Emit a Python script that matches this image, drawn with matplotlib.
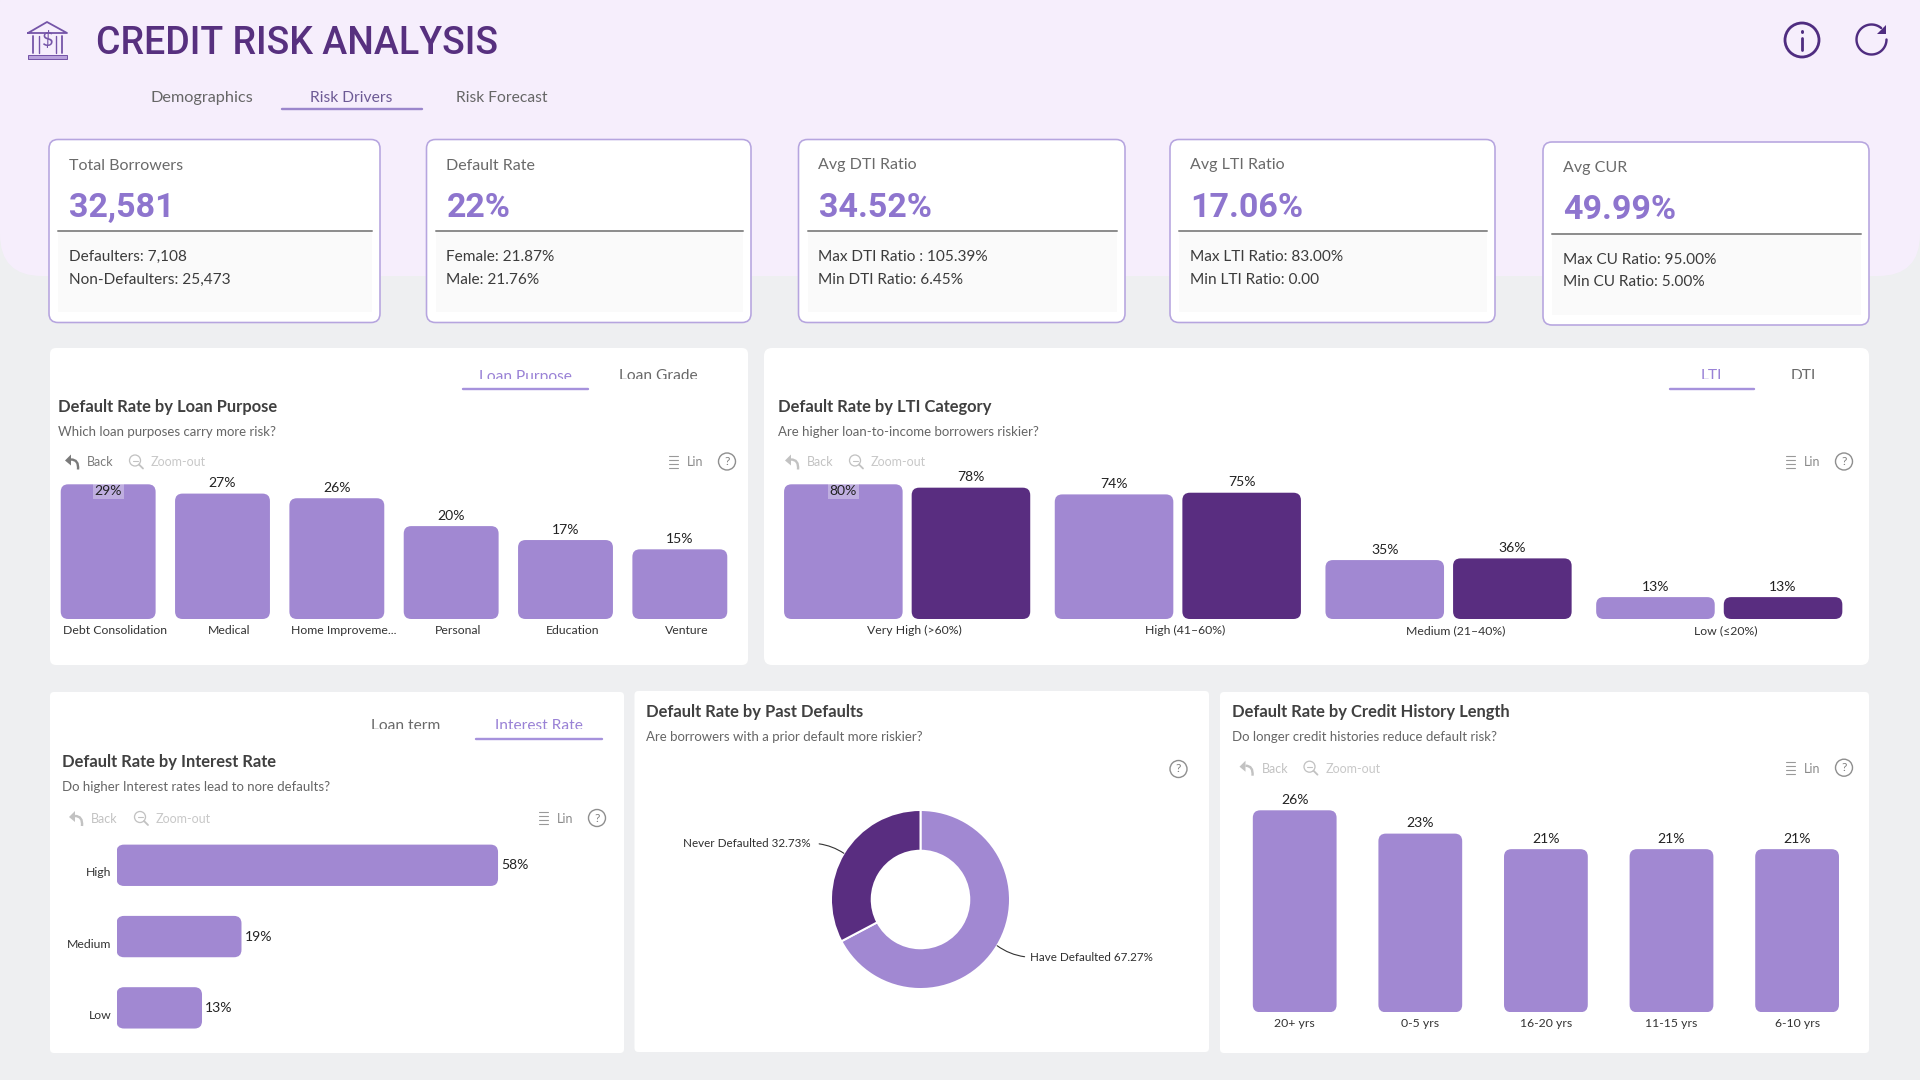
import numpy as np
import matplotlib
matplotlib.use("Agg")
import matplotlib.pyplot as plt
from matplotlib.patches import Circle, FancyBboxPatch, PathPatch, Polygon, Rectangle
from matplotlib.path import Path
from matplotlib.transforms import ScaledTranslation

plt.rcParams["font.family"] = ["Lato", "DejaVu Sans"]

# ---- values shown on the dashboard ----
page_tabs = ["Demographics", "Risk Drivers", "Risk Forecast"]
kpi_titles = ["Total Borrowers", "Default Rate", "Avg DTI Ratio", "Avg LTI Ratio", "Avg CUR"]
kpi_values = ["32,581", "22%", "34.52%", "17.06%", "49.99%"]
kpi_line1 = ["Defaulters: 7,108", "Female: 21.87%", "Max DTI Ratio : 105.39%",
             "Max LTI Ratio: 83.00%", "Max CU Ratio: 95.00%"]
kpi_line2 = ["Non-Defaulters: 25,473", "Male: 21.76%", "Min DTI Ratio: 6.45%",
             "Min LTI Ratio: 0.00", "Min CU Ratio: 5.00%"]

purpose_names = ["Debt Consolidation", "Medical", "Home Improveme...", "Personal", "Education", "Venture"]
purpose_rates = [29, 27, 26, 20, 17, 15]

lti_names = ["Very High (>60%)", "High (41–60%)", "Medium (21–40%)", "Low (≤20%)"]
lti_light = [80, 74, 35, 13]
lti_dark = [78, 75, 36, 13]

interest_names = ["High", "Medium", "Low"]
interest_rates = [58, 19, 13]

past_names = ["Have Defaulted", "Never Defaulted"]
past_shares = [67.27, 32.73]

history_names = ["20+ yrs", "0-5 yrs", "16-20 yrs", "11-15 yrs", "6-10 yrs"]
history_rates = [26, 23, 21, 21, 21]

# ---- palette ----
LIGHT = "#A188D2"
DARK = "#592D80"
PAGE = "#EEEFF1"
HEADER = "#F6EEFC"
BORDER = "#B6A5DF"
ACCENT = "#9A82D6"

W, H = 1920, 1080
fig = plt.figure(figsize=(W / 100, H / 100), dpi=100, facecolor=PAGE)

# Layout layer addressed in pixels from the top-left corner
bg = fig.add_axes([0, 0, 1, 1], zorder=0)
bg.set_xlim(0, W)
bg.set_ylim(H, 0)
bg.axis("off")


def pt(px):
    return px * 0.72


def label(x, y, s, size, color="#444444", weight="normal", ha="left", family=None):
    kw = {"family": family} if family else {}
    return bg.text(x, y + 1, s, fontsize=pt(size), color=color, fontweight=weight, ha=ha, va="center", **kw)


def box(x0, y0, x1, y1, radius=0, fc="white", ec="none", lw=0, z=1):
    style = f"round,pad=0,rounding_size={radius}" if radius else "square,pad=0"
    p = FancyBboxPatch((x0, y0), x1 - x0, y1 - y0, boxstyle=style, fc=fc, ec=ec, lw=pt(lw), zorder=z)
    bg.add_patch(p)
    return p


def stroke(xs, ys, color, lw=1.5, z=3):
    bg.plot(xs, ys, color=color, lw=pt(lw), solid_capstyle="round", zorder=z)


def back_icon(x, y, color):
    bg.add_patch(Polygon([(x - 7, y - 1), (x - 1, y - 7), (x - 1, y + 4)], fc=color, ec="none", zorder=3))
    curve = Path([(x - 1, y - 2), (x + 7, y - 2), (x + 6, y + 8)], [Path.MOVETO, Path.CURVE3, Path.CURVE3])
    bg.add_patch(PathPatch(curve, fc="none", ec=color, lw=pt(2.4), zorder=3))


def zoom_icon(x, y, color):
    bg.add_patch(Circle((x - 1, y - 1), 5.5, fc="none", ec=color, lw=pt(1.3), zorder=3))
    stroke([x - 3.5, x + 1.5], [y - 1, y - 1], color, 1.1)
    stroke([x + 3, x + 7], [y + 3, y + 7], color, 1.8)


def list_icon(x, y, color="#999999"):
    for dy in (-6, -2, 2, 6):
        stroke([x - 4, x + 5], [y + dy, y + dy], color, 1.1)


def help_icon(x, y):
    bg.add_patch(Circle((x, y), 8.5, fc="white", ec="#8f8f8f", lw=pt(1.4), zorder=3))
    bg.text(x, y, "?", fontsize=pt(12), color="#7f7f7f", ha="center", va="center", zorder=4)


def toolbar(back_x, zoom_x, list_x, help_x, y, back_color="#C2C2C2"):
    back_icon(back_x, y, back_color)
    label(back_x + 15, y, "Back", 12.5, back_color)
    zoom_icon(zoom_x, y, "#C2C2C2")
    label(zoom_x + 15, y, "Zoom-out", 12.5, "#C8C8C8")
    list_icon(list_x, y)
    label(list_x + 14, y, "Lin", 12.5, "#8A8A8A")
    help_icon(help_x, y)


def tab_pair(names, centres, active, ul, baseline, clip_y, rule_y):
    # Tab captions sit in a box slightly too short for them, so their lower edge is cut off
    for i, (name, cx) in enumerate(zip(names, centres)):
        t = bg.text(cx, baseline, name, fontsize=pt(15.5), color=ACCENT if i == active else "#6A6A6A",
                    ha="center", va="baseline")
        t.set_clip_path(Rectangle((cx - 80, baseline - 20), 160, clip_y - baseline + 20, transform=bg.transData))
        t.set_clip_on(True)
    stroke(ul, [rule_y, rule_y], "#A692DC", 2.4)


def heading(x, y, title, sub):
    label(x, y, title, 16.5, "#404040", "bold")
    label(x, y + 25, sub, 13.3, "#666666")


def chart_axes(x0, y0, x1, y1):
    ax = fig.add_axes([x0 / W, 1 - y1 / H, (x1 - x0) / W, (y1 - y0) / H], zorder=2)
    ax.patch.set_visible(False)
    for s in ax.spines.values():
        s.set_visible(False)
    ax.tick_params(length=0)
    return ax


def rounded_bars(ax, x0, y0, x1, y1, rects, color, radius=7.5):
    """Swap plain bar rectangles for round-cornered patches of the same size."""
    xl, yl = ax.get_xlim(), ax.get_ylim()
    px_x = (x1 - x0) / abs(xl[1] - xl[0])
    px_y = (y1 - y0) / abs(yl[1] - yl[0])
    for r in rects:
        ax.add_patch(FancyBboxPatch(
            (r.get_x(), r.get_y()), r.get_width(), r.get_height(),
            boxstyle=f"round,pad=0,rounding_size={radius / px_x}",
            mutation_aspect=px_x / px_y, fc=color, ec="none", zorder=2))


def value_label(ax, x, y, v, dy_px, boxed=False):
    kw = {}
    if boxed:
        kw["bbox"] = dict(boxstyle="square,pad=0.12", fc="white", ec="none", alpha=0.32)
    ax.annotate(f"{v}%", (x, y), xytext=(0, pt(dy_px)), textcoords="offset points",
                ha="center", va="center", fontsize=pt(14), color="#222222",
                annotation_clip=False, zorder=5, **kw)


def shift_xticklabels(ax, dx_px):
    off = ScaledTranslation(dx_px / 100, 0, fig.dpi_scale_trans)
    for t in ax.get_xticklabels():
        t.set_transform(t.get_transform() + off)


def column_chart(x0, y0, x1, y1, names, values, bar_frac, pad, dx_tick=0):
    ax = chart_axes(x0, y0, x1, y1)
    n = len(values)
    ax.set_xlim(-0.5, n - 0.5)
    ax.set_ylim(0, max(values))
    ax.set_yticks([])
    xs = np.arange(n)
    bars = ax.bar(xs, values, bar_frac, color="none")
    rounded_bars(ax, x0, y0, x1, y1, bars, LIGHT)
    ax.set_xticks(xs, names, fontsize=pt(12.3), color="#333333")
    ax.tick_params(axis="x", pad=pad)
    shift_xticklabels(ax, dx_tick)
    return ax, xs


# ---- page background ----
box(0, -40, W, 276, radius=42, fc=HEADER, z=0.5)

# ---- header icons and title ----
PURPLE_ICON = "#7555A8"
stroke([28, 47, 67, 28], [33, 22, 33, 33], PURPLE_ICON, 1.8)
for cx, w in ((33, 1.8), (39, 1.4), (56, 1.4), (62, 1.8)):
    stroke([cx, cx], [36, 53], PURPLE_ICON, w)
box(28, 54.5, 67, 58.5, fc="#B9A2DC", ec=PURPLE_ICON, lw=1, z=3)
label(47.5, 38.5, "$", 20, PURPLE_ICON, ha="center")
label(96, 43, "CREDIT RISK ANALYSIS", 37.5, "#57307F", "medium", family="Roboto")

ICON = "#4F2C80"
bg.add_patch(Circle((1802, 40), 17, fc="none", ec=ICON, lw=pt(2.8), zorder=3))
stroke([1802, 1802], [38, 50], ICON, 2.8)
stroke([1802, 1802], [31, 31.5], ICON, 3)
# Refresh glyph: three-quarter arc ending in an arrowhead at the upper right
spin = np.radians(np.arange(0, 315, 5))
stroke(1871.5 + 15 * np.cos(spin), 39.5 + 15 * np.sin(spin), ICON, 2.4)
bg.add_patch(Polygon([(1885.5, 25), (1885.5, 34), (1876.5, 34)], fc=ICON, ec="none", zorder=3))

# ---- page tabs ----
for name, x0, size, active in zip(page_tabs, [150, 310.5, 456.5], [16.2, 15.6, 15.6], [False, True, False]):
    label(x0, 97, name, size, "#6D5A95" if active else "#666666")
stroke([282, 422], [109, 109], "#9B86CC", 2.4)

# ---- KPI cards ----
card_x0 = [49, 426.5, 798.5, 1170, 1543]
card_x1 = [380, 751, 1125, 1495, 1869]
card_dy = [0, 0, 0, 0, 2.5]
for i in range(5):
    x0, x1, d = card_x0[i], card_x1[i], card_dy[i]
    box(x0, 139.5 + d, x1, 322.5 + d, radius=9, fc="white", ec=BORDER, lw=1.6, z=1)
    box(x0 + 9, 231 + d, x1 - 8, 312 + d, fc="#FAFAFA", z=1.1)
    stroke([x0 + 9, x1 - 8], [231 + d, 231 + d], "#8E8E8E", 2)
    label(x0 + 20, 164.5 + d, kpi_titles[i], 16, "#6A6A6A")
    label(x0 + 20, 206.7 + d, kpi_values[i], 34, "#8E75CE", "bold", family="Roboto")
    label(x0 + 20, 256.2 + d, kpi_line1[i], 15.4, "#3C3C3C")
    label(x0 + 20, 278.7 + d, kpi_line2[i], 15.4, "#3C3C3C")

# ---- white panels ----
box(50, 348, 748, 665, radius=6, z=0.8)
box(764, 348, 1869, 665, radius=8, z=0.8)
box(50, 692, 624, 1053, radius=4, z=0.8)
box(634.5, 691, 1209, 1052, radius=4, z=0.8)
box(1220, 692, 1869, 1053, radius=4, z=0.8)

# ---- default rate by loan purpose ----
tab_pair(["Loan Purpose", "Loan Grade"], [525, 658], 0, [463, 588], 380.5, 378.8, 389)
heading(58, 406, "Default Rate by Loan Purpose", "Which loan purposes carry more risk?")
toolbar(72, 136, 673, 727, 461.5, back_color="#7A7A7A")
ax1, xs1 = column_chart(51, 484.3, 737, 619, purpose_names, purpose_rates, 0.83, 4.5, 7)
for x, v in zip(xs1, purpose_rates):
    if v == max(purpose_rates):
        value_label(ax1, x, v, v, -7, boxed=True)
    else:
        value_label(ax1, x, v, v, 10.5)

# ---- default rate by LTI category ----
tab_pair(["LTI", "DTI"], [1711, 1803.6], 0, [1670, 1753.6], 380.5, 378.8, 389)
heading(778, 406, "Default Rate by LTI Category", "Are higher loan-to-income borrowers riskier?")
toolbar(792, 856, 1790, 1844, 461.5)
ax2 = chart_axes(771.8, 484.3, 1854.6, 619)
ax2.set_xlim(-0.5, 3.5)
ax2.set_ylim(0, 80)
ax2.set_yticks([])
xs2 = np.arange(len(lti_names))
bars_a = ax2.bar(xs2 - 0.2357, lti_light, 0.438, color="none")
bars_b = ax2.bar(xs2 + 0.2357, lti_dark, 0.438, color="none")
rounded_bars(ax2, 771.8, 484.3, 1854.6, 619, bars_a, LIGHT)
rounded_bars(ax2, 771.8, 484.3, 1854.6, 619, bars_b, DARK)
ax2.set_xticks(xs2, lti_names, fontsize=pt(12.3), color="#333333")
ax2.tick_params(axis="x", pad=4.5)
shift_xticklabels(ax2, 7)
for x, v in zip(xs2 - 0.2357, lti_light):
    if v == 80:
        value_label(ax2, x, v, v, -7, boxed=True)
    else:
        value_label(ax2, x, v, v, 10.5)
for x, v in zip(xs2 + 0.2357, lti_dark):
    value_label(ax2, x, v, v, 10.5)

# ---- default rate by interest rate ----
tab_pair(["Loan term", "Interest Rate"], [406, 539], 1, [476, 602], 730.5, 728.8, 739)
heading(62.5, 761, "Default Rate by Interest Rate", "Do higher Interest rates lead to nore defaults?")
toolbar(76, 141, 543, 597, 818)
hx0, hy0, hx1, hy1 = 116.5, 829.65, 600, 1043.5
ax3 = chart_axes(hx0, hy0, hx1, hy1)
ax3.set_xlim(0, 73.5)
ax3.set_ylim(2.5, -0.5)
ax3.set_xticks([])
ys3 = np.arange(len(interest_names))
bars_h = ax3.barh(ys3, interest_rates, 0.58, color="none")
rounded_bars(ax3, hx0, hy0, hx1, hy1, bars_h, LIGHT)
ax3.set_yticks(ys3, interest_names, fontsize=pt(12.3), color="#333333")
ax3.tick_params(axis="y", pad=3.5)
off_y = ScaledTranslation(0, -6.5 / 100, fig.dpi_scale_trans)
for t in ax3.get_yticklabels():
    t.set_transform(t.get_transform() + off_y)
for y, v in zip(ys3, interest_rates):
    ax3.annotate(f"{v}%", (v, y), xytext=(pt(3), 0), textcoords="offset points", ha="left",
                 va="center", fontsize=pt(14), color="#222222")

# ---- default rate by past defaults ----
heading(646, 711, "Default Rate by Past Defaults", "Are borrowers with a prior default more riskier?")
help_icon(1178.5, 769)
ax4 = chart_axes(831, 810, 1010, 989)
ax4.pie(past_shares, colors=[LIGHT, DARK], startangle=90, counterclock=False, radius=1,
        wedgeprops=dict(width=0.455, edgecolor="white", linewidth=pt(2)))
ax4.set_xlim(-1, 1)
ax4.set_ylim(-1, 1)
mid_light = np.radians(past_shares[0] / 2 / 100 * 360)
mid_dark = np.radians((past_shares[0] + past_shares[1] / 2) / 100 * 360)
ax4.annotate(f"{past_names[0]} {past_shares[0]:.2f}%",
             (np.sin(mid_light), np.cos(mid_light)), xytext=(pt(33), pt(-11.5)),
             textcoords="offset points", ha="left", va="center", fontsize=pt(11.6), color="#2E2E2E",
             annotation_clip=False,
             arrowprops=dict(arrowstyle="-", color="#333333", lw=0.8, shrinkA=2, shrinkB=0,
                             relpos=(0, 0.5), connectionstyle="arc3,rad=-0.15"))
ax4.annotate(f"{past_names[1]} {past_shares[1]:.2f}%",
             (np.sin(mid_dark), np.cos(mid_dark)), xytext=(pt(-33), pt(10)),
             textcoords="offset points", ha="right", va="center", fontsize=pt(11.6), color="#2E2E2E",
             annotation_clip=False,
             arrowprops=dict(arrowstyle="-", color="#333333", lw=0.8, shrinkA=4, shrinkB=0,
                             relpos=(1, 0.5), connectionstyle="arc3,rad=-0.15"))

# ---- default rate by credit history length ----
heading(1232, 711, "Default Rate by Credit History Length", "Do longer credit histories reduce default risk?")
toolbar(1246.5, 1310.5, 1790, 1844, 767.7)
ax5, xs5 = column_chart(1231.9, 810.3, 1859.9, 1012.3, history_names, history_rates, 0.667, 3.8)
for x, v in zip(xs5, history_rates):
    value_label(ax5, x, v, v, 10.5)

fig.savefig("out.png", dpi=100, facecolor=fig.get_facecolor())
